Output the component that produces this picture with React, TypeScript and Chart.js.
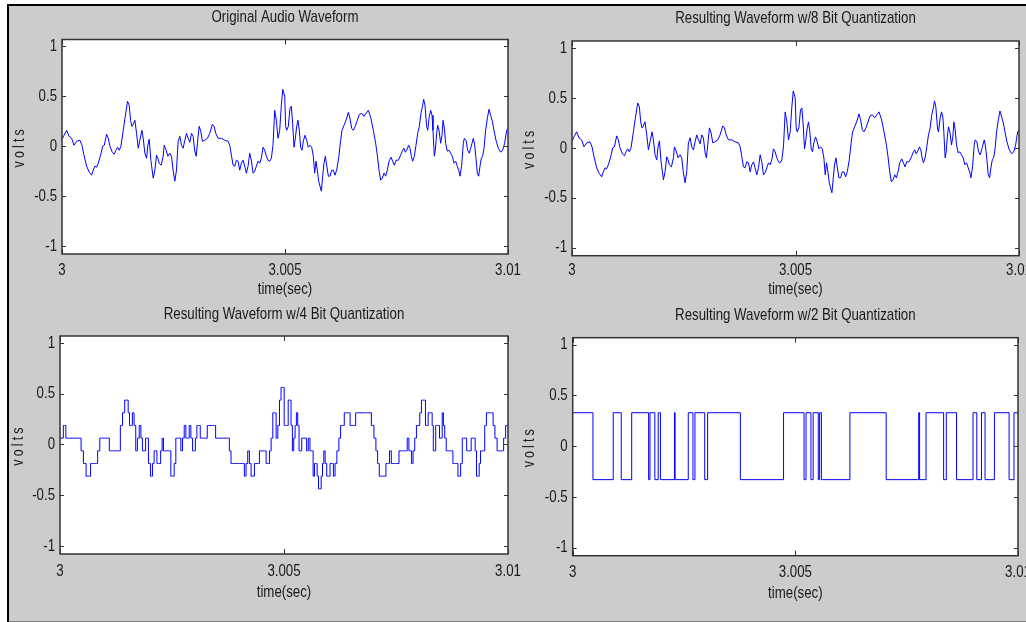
import React, { useEffect, useRef } from "react";
import { Chart, registerables } from "chart.js";

Chart.register(...registerables);

// ---------- data ----------
const startSec = 3;

// sample times, in milliseconds after t = 3 s
const timeMs = [
  0, 0.045, 0.104, 0.157, 0.216, 0.269, 0.328, 0.403, 0.448, 0.493,
  0.552, 0.612, 0.664, 0.701, 0.739, 0.776, 0.813, 0.866, 0.91, 0.948,
  1.0, 1.037, 1.075, 1.127, 1.172, 1.209, 1.246, 1.284, 1.321, 1.373,
  1.418, 1.47, 1.507, 1.537, 1.567, 1.597, 1.634, 1.672, 1.709, 1.746,
  1.791, 1.821, 1.858, 1.896, 1.925, 1.955, 1.993, 2.045, 2.082, 2.119,
  2.149, 2.179, 2.224, 2.269, 2.291, 2.328, 2.373, 2.418, 2.455, 2.493,
  2.53, 2.567, 2.604, 2.642, 2.679, 2.716, 2.754, 2.791, 2.828, 2.866,
  2.903, 2.94, 2.978, 3.007, 3.037, 3.075, 3.112, 3.149, 3.201, 3.261,
  3.313, 3.373, 3.41, 3.448, 3.5, 3.575, 3.649, 3.724, 3.761, 3.799,
  3.836, 3.873, 3.91, 3.948, 3.985, 4.022, 4.06, 4.097, 4.134, 4.172,
  4.209, 4.246, 4.284, 4.321, 4.358, 4.396, 4.433, 4.47, 4.507, 4.545,
  4.582, 4.619, 4.657, 4.694, 4.731, 4.769, 4.806, 4.843, 4.881, 4.918,
  4.95, 4.993, 5.015, 5.037, 5.075, 5.112, 5.142, 5.172, 5.202, 5.232,
  5.262, 5.291, 5.321, 5.351, 5.381, 5.411, 5.448, 5.486, 5.523, 5.561,
  5.598, 5.635, 5.665, 5.695, 5.725, 5.755, 5.785, 5.815, 5.845, 5.874,
  5.904, 5.934, 5.972, 6.009, 6.046, 6.084, 6.121, 6.158, 6.203, 6.248,
  6.278, 6.323, 6.368, 6.42, 6.457, 6.495, 6.532, 6.577, 6.622, 6.667,
  6.719, 6.771, 6.816, 6.868, 6.921, 6.981, 7.033, 7.07, 7.108, 7.145,
  7.182, 7.22, 7.257, 7.294, 7.332, 7.377, 7.414, 7.451, 7.489, 7.541,
  7.593, 7.638, 7.668, 7.698, 7.728, 7.773, 7.803, 7.833, 7.862, 7.9,
  7.937, 7.975, 8.012, 8.049, 8.087, 8.109, 8.139, 8.176, 8.199, 8.236,
  8.266, 8.296, 8.318, 8.348, 8.371, 8.401, 8.423, 8.453, 8.49, 8.52,
  8.543, 8.573, 8.602, 8.64, 8.677, 8.714, 8.752, 8.789, 8.827, 8.864,
  8.901, 8.924, 8.961, 8.998, 9.021, 9.058, 9.096, 9.133, 9.163, 9.193,
  9.223, 9.253, 9.282, 9.312, 9.342, 9.372, 9.402, 9.432, 9.462, 9.499,
  9.537, 9.574, 9.611, 9.649, 9.686, 9.731, 9.783, 9.836, 9.88, 9.925,
  9.97, 10.0,
];

// original audio waveform (volts)
const originalVolts = [
  0.07, 0.11, 0.16, 0.1, 0.08, 0.01, 0.05, 0.06, 0.01, -0.09,
  -0.2, -0.26, -0.29, -0.24, -0.2, -0.21, -0.17, -0.09, 0.0, 0.01,
  0.12, 0.08, 0.0, -0.06, -0.08, -0.04, -0.01, -0.04, 0.0, 0.16,
  0.3, 0.45, 0.41, 0.26, 0.2, 0.22, 0.26, 0.13, -0.02, 0.06,
  0.16, 0.08, -0.07, -0.12, 0.01, 0.07, -0.14, -0.32, -0.24, -0.09,
  -0.12, -0.17, -0.19, -0.1, 0.01, -0.03, -0.1, -0.07, -0.1, -0.25,
  -0.35, -0.24, 0.05, 0.1, 0.01, -0.02, 0.06, 0.13, 0.08, 0.04,
  0.13, 0.1, -0.05, -0.1, 0.03, 0.2, 0.15, 0.05, 0.06, 0.08,
  0.13, 0.22, 0.2, 0.13, 0.08, 0.08, 0.06, 0.05, 0.01, -0.09,
  -0.19, -0.2, -0.14, -0.15, -0.24, -0.17, -0.14, -0.2, -0.27, -0.2,
  -0.07, -0.14, -0.27, -0.25, -0.2, -0.15, -0.17, -0.12, -0.01, -0.04,
  -0.1, -0.14, -0.15, -0.12, 0.01, 0.36, 0.26, 0.08, 0.16, 0.41,
  0.57, 0.5, 0.2, 0.16, 0.2, 0.38, 0.4, 0.23, -0.01, 0.08,
  0.2, 0.26, 0.16, -0.01, -0.04, 0.05, 0.11, 0.06, -0.01, 0.01,
  -0.01, -0.1, -0.27, -0.15, -0.24, -0.35, -0.4, -0.45, -0.3, -0.17,
  -0.1, -0.19, -0.3, -0.3, -0.24, -0.24, -0.29, -0.24, -0.12, 0.06,
  0.16, 0.21, 0.26, 0.34, 0.28, 0.18, 0.16, 0.2, 0.26, 0.32,
  0.33, 0.3, 0.33, 0.36, 0.29, 0.16, 0.03, -0.09, -0.24, -0.34,
  -0.32, -0.27, -0.3, -0.24, -0.15, -0.11, -0.15, -0.19, -0.14, -0.14,
  -0.09, -0.04, -0.02, -0.06, -0.04, 0.01, -0.02, -0.1, -0.15, -0.1,
  0.01, 0.13, 0.2, 0.33, 0.41, 0.47, 0.41, 0.2, 0.16, 0.3,
  0.36, 0.31, 0.16, -0.1, -0.04, 0.13, 0.21, 0.16, 0.03, 0.11,
  0.26, 0.18, 0.03, -0.05, -0.04, -0.07, -0.1, -0.17, -0.15, -0.2,
  -0.25, -0.3, -0.19, 0.03, 0.08, 0.06, -0.04, -0.07, -0.02, 0.03,
  0.08, 0.01, -0.12, -0.27, -0.3, -0.2, -0.12, -0.1, -0.02, 0.16,
  0.28, 0.37, 0.31, 0.25, 0.16, 0.06, -0.02, -0.06, -0.04, 0.03,
  0.16, 0.18,
];

// the 8 bit trace reads identical to the original at this resolution
const eightBitVolts = originalVolts;

// 4 bit quantized trace (volts), same sample times
const fourBitVolts = [
  0.0625, 0.0625, 0.1875, 0.0625, 0.0625, 0.0625, 0.0625, 0.0625, 0.0625, -0.0625,
  -0.1875, -0.3125, -0.3125, -0.1875, -0.1875, -0.1875, -0.1875, -0.0625, 0.0625, 0.0625,
  0.0625, 0.0625, 0.0625, -0.0625, -0.0625, -0.0625, -0.0625, -0.0625, -0.0625, 0.1875,
  0.3125, 0.4375, 0.4375, 0.3125, 0.1875, 0.1875, 0.3125, 0.1875, -0.0625, 0.0625,
  0.1875, 0.0625, -0.0625, -0.0625, 0.0625, 0.0625, -0.1875, -0.3125, -0.1875, -0.0625,
  -0.0625, -0.1875, -0.1875, -0.0625, 0.0625, -0.0625, -0.0625, -0.0625, -0.0625, -0.3125,
  -0.3125, -0.1875, 0.0625, 0.0625, 0.0625, -0.0625, 0.0625, 0.1875, 0.0625, 0.0625,
  0.1875, 0.0625, -0.0625, -0.0625, 0.0625, 0.1875, 0.1875, 0.0625, 0.0625, 0.0625,
  0.1875, 0.1875, 0.1875, 0.1875, 0.0625, 0.0625, 0.0625, 0.0625, 0.0625, -0.0625,
  -0.1875, -0.1875, -0.1875, -0.1875, -0.1875, -0.1875, -0.1875, -0.1875, -0.3125, -0.1875,
  -0.0625, -0.1875, -0.3125, -0.3125, -0.1875, -0.1875, -0.1875, -0.0625, -0.0625, -0.0625,
  -0.0625, -0.1875, -0.1875, -0.0625, 0.0625, 0.3125, 0.3125, 0.0625, 0.1875, 0.4375,
  0.5625, 0.5625, 0.1875, 0.1875, 0.1875, 0.4375, 0.4375, 0.1875, -0.0625, 0.0625,
  0.1875, 0.3125, 0.1875, -0.0625, -0.0625, 0.0625, 0.0625, 0.0625, -0.0625, 0.0625,
  -0.0625, -0.0625, -0.3125, -0.1875, -0.1875, -0.3125, -0.4375, -0.4375, -0.3125, -0.1875,
  -0.0625, -0.1875, -0.3125, -0.3125, -0.1875, -0.1875, -0.3125, -0.1875, -0.0625, 0.0625,
  0.1875, 0.1875, 0.3125, 0.3125, 0.3125, 0.1875, 0.1875, 0.1875, 0.3125, 0.3125,
  0.3125, 0.3125, 0.3125, 0.3125, 0.3125, 0.1875, 0.0625, -0.0625, -0.1875, -0.3125,
  -0.3125, -0.3125, -0.3125, -0.1875, -0.1875, -0.0625, -0.1875, -0.1875, -0.1875, -0.1875,
  -0.0625, -0.0625, -0.0625, -0.0625, -0.0625, 0.0625, -0.0625, -0.0625, -0.1875, -0.0625,
  0.0625, 0.1875, 0.1875, 0.3125, 0.4375, 0.4375, 0.4375, 0.1875, 0.1875, 0.3125,
  0.3125, 0.3125, 0.1875, -0.0625, -0.0625, 0.1875, 0.1875, 0.1875, 0.0625, 0.0625,
  0.3125, 0.1875, 0.0625, -0.0625, -0.0625, -0.0625, -0.0625, -0.1875, -0.1875, -0.1875,
  -0.3125, -0.3125, -0.1875, 0.0625, 0.0625, 0.0625, -0.0625, -0.0625, -0.0625, 0.0625,
  0.0625, 0.0625, -0.0625, -0.3125, -0.3125, -0.1875, -0.0625, -0.0625, -0.0625, 0.1875,
  0.3125, 0.3125, 0.3125, 0.3125, 0.1875, 0.0625, -0.0625, -0.0625, -0.0625, 0.0625,
  0.1875, 0.1875,
];

// 2 bit quantized trace: level changes (ms after 3 s) and the level held from there
const twoBitTimesMs = [
  0, 0.455, 0.91, 1.09, 1.325, 1.705, 1.735, 1.845, 1.92, 1.97,
  2.285, 2.3, 2.595, 2.7, 2.745, 2.965, 3.03, 3.765, 4.735, 5.195,
  5.24, 5.35, 5.4, 5.515, 5.545, 5.585, 6.225, 7.04, 7.77, 7.79,
  7.935, 8.33, 8.39, 8.62, 8.99, 9.075, 9.18, 9.26, 9.47, 9.8,
  9.91, 10.0,
];
const twoBitVolts = [
  0.33, -0.33, 0.33, -0.33, 0.33, -0.33, 0.33, -0.33, 0.33, -0.33,
  0.33, -0.33, 0.33, -0.33, 0.33, -0.33, 0.33, -0.33, 0.33, -0.33,
  0.33, -0.33, 0.33, -0.33, 0.33, -0.33, 0.33, -0.33, 0.33, -0.33,
  0.33, -0.33, 0.33, -0.33, 0.33, -0.33, 0.33, -0.33, 0.33, -0.33,
  0.33, 0.33,
];

const panelTitles = [
  "Original Audio Waveform",
  "Resulting Waveform w/8 Bit Quantization",
  "Resulting Waveform w/4 Bit Quantization",
  "Resulting Waveform w/2 Bit Quantization",
];
const xTickValues = [3, 3.005, 3.01];
const yTickValues = [-1, -0.5, 0, 0.5, 1];
const xAxisLabel = "time(sec)";
const yAxisLabel = "volts";

// ---------- styling / layout ----------
const FONT = '"Liberation Sans", Arial, sans-serif';
const TEXT = "#1a1a1a";
const NARROW = 0.78; // horizontal squeeze so the sans face reads like the narrow original

type Pt = { x: number; y: number };
const toPoints = (ms: number[], v: number[]): Pt[] =>
  ms.map((m, i) => ({ x: startSec + m / 1000, y: v[i] }));

type PanelCfg = {
  title: string;
  points: Pt[];
  stepped: false | "before" | "middle";
  left: number;
  top: number;
  w: number;
  h: number;
  yAxisW: number;
  padRight: number;
  titleTop: number;
  titleBottom: number;
  xAxisH: number;
  xTickPad: number;
  xTitleBottom: number;
  yTitleTop: number;
};

const panels: PanelCfg[] = [
  {
    title: panelTitles[0], points: toPoints(timeMs, originalVolts), stepped: false,
    left: 9, top: 6, w: 531, h: 294, yAxisW: 53, padRight: 32,
    titleTop: 0.8, titleBottom: 12.3, xAxisH: 46, xTickPad: 5.8, xTitleBottom: 0.3, yTitleTop: 1.4,
  },
  {
    title: panelTitles[1], points: toPoints(timeMs, eightBitVolts), stepped: false,
    left: 517, top: 6, w: 509, h: 294, yAxisW: 55, padRight: 7,
    titleTop: 2.3, titleBottom: 12.3, xAxisH: 44.3, xTickPad: 4.6, xTitleBottom: 0, yTitleTop: 3.4,
  },
  {
    title: panelTitles[2], points: toPoints(timeMs, fourBitVolts), stepped: "middle",
    left: 9, top: 300, w: 531, h: 320, yAxisW: 51, padRight: 32,
    titleTop: 3.8, titleBottom: 11.8, xAxisH: 66, xTickPad: 6.8, xTitleBottom: 17.8, yTitleTop: 0,
  },
  {
    title: panelTitles[3], points: toPoints(twoBitTimesMs, twoBitVolts), stepped: "before",
    left: 517, top: 300, w: 509, h: 320, yAxisW: 55.7, padRight: 8,
    titleTop: 5.3, titleBottom: 12, xAxisH: 64.3, xTickPad: 6.1, xTitleBottom: 16.8, yTitleTop: 3.4,
  },
];

const framePlugin = {
  id: "matlabFrame",
  beforeDraw(chart: any) {
    const { ctx, chartArea: a } = chart;
    // narrow text rendering (text stays real canvas text)
    if (!ctx.__narrow) {
      const fill = ctx.fillText.bind(ctx);
      ctx.fillText = (t: string, x: number, y: number, mw?: number) => {
        ctx.save();
        ctx.translate(x, y);
        ctx.scale(NARROW, 1);
        if (mw === undefined) fill(t, 0, 0);
        else fill(t, 0, 0, mw / NARROW);
        ctx.restore();
      };
      ctx.__narrow = true;
    }
    ctx.save();
    ctx.fillStyle = "#ffffff";
    ctx.fillRect(a.left, a.top, a.right - a.left, a.bottom - a.top);
    ctx.restore();
    const ys = chart.scales.y;
    if (ys && !ys.__spaced) {
      const orig = ys.drawTitle.bind(ys);
      ys.drawTitle = () => {
        ctx.save();
        try {
          (ctx as any).letterSpacing = "4px";
        } catch (e) {}
        orig();
        ctx.restore();
      };
      ys.__spaced = true;
    }
  },
  afterDraw(chart: any) {
    const { ctx, chartArea: a, scales } = chart;
    ctx.save();
    ctx.strokeStyle = "#333333";
    ctx.lineWidth = 1.5;
    ctx.strokeRect(a.left, a.top, a.right - a.left, a.bottom - a.top);
    ctx.lineWidth = 1;
    ctx.beginPath();
    for (const v of xTickValues) {
      const px = Math.round(scales.x.getPixelForValue(v)) + 0.5;
      ctx.moveTo(px, a.bottom);
      ctx.lineTo(px, a.bottom - 5);
      ctx.moveTo(px, a.top);
      ctx.lineTo(px, a.top + 5);
    }
    for (const v of yTickValues) {
      const py = Math.round(scales.y.getPixelForValue(v)) + 0.5;
      ctx.moveTo(a.left, py);
      ctx.lineTo(a.left + 4, py);
      ctx.moveTo(a.right, py);
      ctx.lineTo(a.right - 4, py);
    }
    ctx.stroke();
    ctx.restore();
  },
};

function WavePanel({ cfg }: { cfg: PanelCfg }) {
  const ref = useRef<HTMLCanvasElement>(null);
  useEffect(() => {
    if (!ref.current) return;
    const tickFont = { family: FONT, size: 17, weight: "normal" as const, lineHeight: 1.2 };
    const chart = new Chart(ref.current, {
      type: "line",
      data: {
        datasets: [
          {
            data: cfg.points,
            borderColor: "#0000ff",
            borderWidth: 1,
            pointRadius: 0,
            tension: 0,
            fill: false,
            stepped: cfg.stepped as any,
          },
        ],
      },
      options: {
        animation: false,
        responsive: false,
        maintainAspectRatio: false,
        events: [],
        parsing: false,
        normalized: true,
        layout: {
          autoPadding: false,
          padding: { left: 0, right: cfg.padRight, top: 0, bottom: 0 },
        },
        plugins: {
          legend: { display: false },
          tooltip: { enabled: false },
          title: {
            display: true,
            text: cfg.title,
            fullSize: false,
            color: TEXT,
            font: { family: FONT, size: 17, weight: "normal", lineHeight: 1.2 },
            padding: { top: cfg.titleTop, bottom: cfg.titleBottom },
          },
        },
        scales: {
          x: {
            type: "linear",
            min: xTickValues[0],
            max: xTickValues[xTickValues.length - 1],
            bounds: "data",
            afterBuildTicks: (s: any) => {
              s.ticks = xTickValues.map((value) => ({ value }));
            },
            afterFit: (s: any) => {
              s.height = cfg.xAxisH;
              s.paddingLeft = 0;
              s.paddingRight = 0;
            },
            grid: { display: false, drawTicks: false },
            border: { display: false },
            ticks: {
              padding: cfg.xTickPad,
              color: TEXT,
              font: tickFont,
              maxRotation: 0,
              autoSkip: false,
              callback: (v: any) => String(v),
            },
            title: {
              display: true,
              text: xAxisLabel,
              color: TEXT,
              font: tickFont,
              padding: { top: 0, bottom: cfg.xTitleBottom },
            },
          },
          y: {
            type: "linear",
            min: -1.08,
            max: 1.07,
            bounds: "data",
            afterBuildTicks: (s: any) => {
              s.ticks = yTickValues.map((value) => ({ value }));
            },
            afterFit: (s: any) => {
              s.width = cfg.yAxisW;
              s.paddingTop = 0;
              s.paddingBottom = 0;
            },
            grid: { display: false, drawTicks: false },
            border: { display: false },
            ticks: {
              padding: 5,
              color: TEXT,
              font: tickFont,
              autoSkip: false,
              callback: (v: any) => String(v),
            },
            title: {
              display: true,
              text: yAxisLabel,
              color: TEXT,
              font: { family: FONT, size: 16, weight: "normal", lineHeight: 1.2 },
              padding: { top: cfg.yTitleTop, bottom: 0 },
            },
          },
        },
      },
      plugins: [framePlugin],
    } as any);
    return () => chart.destroy();
  }, [cfg]);
  return (
    <canvas
      ref={ref}
      width={cfg.w}
      height={cfg.h}
      style={{ position: "absolute", left: cfg.left, top: cfg.top, width: cfg.w, height: cfg.h }}
    />
  );
}

export default function App() {
  return (
    <div
      style={{
        position: "fixed",
        left: 0,
        top: 0,
        width: 1026,
        height: 622,
        background: "#ffffff",
        overflow: "hidden",
      }}
    >
      <div style={{ position: "absolute", left: 9, top: 6, width: 1017, height: 615, background: "#cccccc" }} />
      <div style={{ position: "absolute", left: 9, top: 621, width: 1017, height: 1, background: "#808080" }} />
      <div style={{ position: "absolute", left: 7, top: 4, width: 1019, height: 2, background: "#000000" }} />
      <div style={{ position: "absolute", left: 7, top: 4, width: 2, height: 618, background: "#000000" }} />
      {panels.map((p, i) => (
        <WavePanel key={i} cfg={p} />
      ))}
    </div>
  );
}
